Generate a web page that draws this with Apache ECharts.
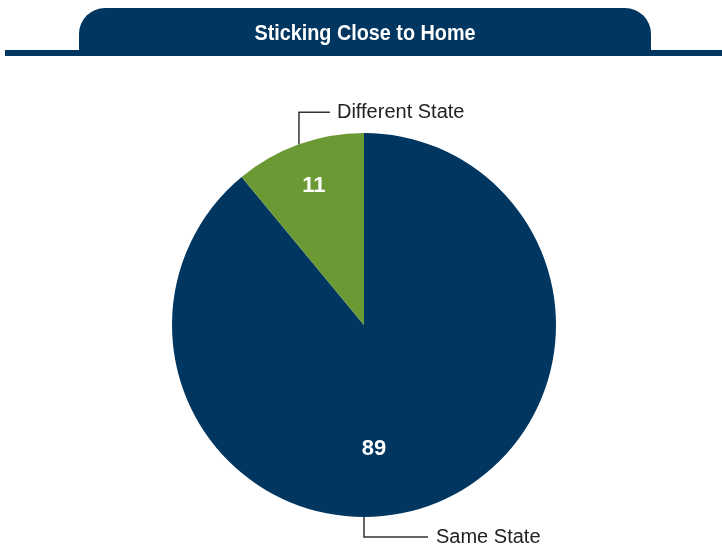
<!DOCTYPE html>
<html>
<head>
<meta charset="utf-8">
<script src="https://cdn.jsdelivr.net/npm/echarts@6/dist/echarts.min.js"></script>
<style>
    html, body { margin: 0; padding: 0; background: #fff; }
    #chart { width: 722px; height: 547px; }
</style>
</head>
<body>
<div id="chart"></div>
<script>
    // data
    const titleText = 'Sticking Close to Home';
    const categories = ['Same State', 'Different State'];
    const values = [89, 11];

    const navy = '#003660';
    const green = '#6b9a34';
    const font = '"Liberation Sans", Arial, sans-serif';

    // pie geometry (pixels)
    const CX = 364, CY = 325, R = 192;
    const total = values.reduce((a, b) => a + b, 0);

    // middle of slice i, clockwise from 12 o'clock
    function midPoint(i, dist) {
        let before = 0;
        for (let k = 0; k < i; k++) before += values[k];
        const a = (90 - (before + values[i] / 2) / total * 360) * Math.PI / 180;
        return [CX + Math.cos(a) * dist, CY - Math.sin(a) * dist];
    }

    const pieData = categories.map((name, i) => ({
        name: name,
        value: values[i],
        itemStyle: { color: i === 0 ? navy : green }
    }));

    const chart = echarts.init(document.getElementById('chart'));
    chart.setOption({
        animation: false,
        graphic: [
            {
                type: 'rect',
                shape: { x: 5, y: 50, width: 717, height: 6 },
                style: { fill: navy }
            },
            {
                type: 'rect',
                shape: { x: 79, y: 8, width: 572, height: 46, r: [26, 26, 0, 0] },
                style: { fill: navy }
            },
            {
                type: 'text',
                x: 365, y: 34,
                scaleX: 0.9,
                style: {
                    text: titleText,
                    fill: '#fff',
                    font: 'bold 22px ' + font,
                    align: 'center',
                    verticalAlign: 'middle'
                }
            }
        ],
        series: [
            {
                type: 'pie',
                center: [CX, CY],
                radius: R,
                startAngle: 90,
                clockwise: true,
                silent: true,
                data: pieData,
                label: {
                    show: true,
                    position: 'inside',
                    formatter: '{c}',
                    color: '#fff',
                    fontFamily: font,
                    fontWeight: 'bold',
                    fontSize: 22
                },
                labelLayout: function (p) {
                    let pt;
                    if (p.dataIndex === 1) pt = midPoint(1, R * 0.77);
                    else pt = [CX + 10, CY + 124];
                    return { x: pt[0], y: pt[1], align: 'center', verticalAlign: 'middle' };
                },
                labelLine: { show: false }
            },
            {
                type: 'pie',
                center: [CX, CY],
                radius: R,
                startAngle: 90,
                clockwise: true,
                silent: true,
                data: categories.map((name, i) => ({ name: name, value: values[i] })),
                itemStyle: { color: 'rgba(0,0,0,0)' },
                label: {
                    show: true,
                    position: 'outside',
                    formatter: '{b}',
                    color: '#222',
                    fontFamily: font,
                    fontSize: 20
                },
                labelLine: {
                    show: true,
                    lineStyle: { color: '#333', width: 1.5 }
                },
                labelLayout: function (p) {
                    let anchor, ly, lineEnd, tx;
                    if (p.dataIndex === 1) {
                        anchor = midPoint(1, R);
                        ly = anchor[1] - 32;
                        lineEnd = anchor[0] + 31;
                        tx = anchor[0] + 38;
                    } else {
                        anchor = [CX, CY + R];
                        ly = anchor[1] + 20;
                        lineEnd = CX + 64;
                        tx = CX + 72;
                    }
                    return {
                        x: tx, y: ly,
                        align: 'left', verticalAlign: 'middle',
                        labelLinePoints: [anchor, [anchor[0], ly], [lineEnd, ly]]
                    };
                }
            }
        ]
    });
</script>
</body>
</html>
